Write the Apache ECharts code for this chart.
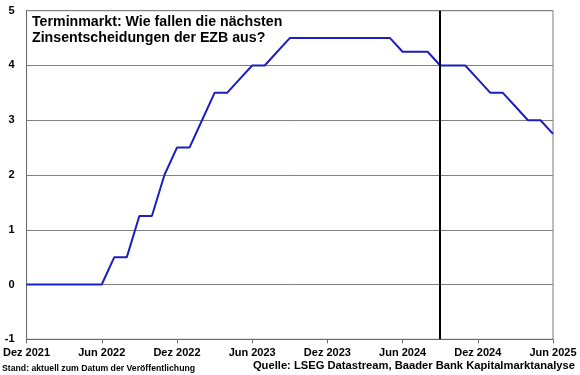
<!DOCTYPE html>
<html>
<head>
<meta charset="utf-8">
<script src="https://cdn.jsdelivr.net/npm/echarts@6/dist/echarts.min.js"></script>
<style>
html,body{margin:0;padding:0;background:#fff;}
#chart{width:580px;height:375px;}
</style>
</head>
<body>
<div id="chart"></div>
<script>
// Monthly categories, Dez 2021 .. Jun 2025
const months = ["Dez 2021","Jan 2022","Feb 2022","Mär 2022","Apr 2022","Mai 2022","Jun 2022","Jul 2022","Aug 2022","Sep 2022","Okt 2022","Nov 2022",
  "Dez 2022","Jan 2023","Feb 2023","Mär 2023","Apr 2023","Mai 2023","Jun 2023","Jul 2023","Aug 2023","Sep 2023","Okt 2023","Nov 2023",
  "Dez 2023","Jan 2024","Feb 2024","Mär 2024","Apr 2024","Mai 2024","Jun 2024","Jul 2024","Aug 2024","Sep 2024","Okt 2024","Nov 2024",
  "Dez 2024","Jan 2025","Feb 2025","Mär 2025","Apr 2025","Mai 2025","Jun 2025"];
// Leitzins / Terminmarkt-Erwartung (%)
const rates = [0,0,0,0,0,0,0,0.5,0.5,1.25,1.25,2.0,
  2.5,2.5,3.0,3.5,3.5,3.75,4.0,4.0,4.25,4.5,4.5,4.5,
  4.5,4.5,4.5,4.5,4.5,4.5,4.25,4.25,4.25,4.0,4.0,4.0,
  3.75,3.5,3.5,3.25,3.0,3.0,2.75];
const markerMonth = "Sep 2024";
const yTicks = [-1,0,1,2,3,4,5];
const titleText = "Terminmarkt: Wie fallen die nächsten\nZinsentscheidungen der EZB aus?";
const footLeft = "Stand: aktuell zum Datum der Veröffentlichung";
const footRight = "Quelle: LSEG Datastream, Baader Bank Kapitalmarktanalyse";

const font = "'Liberation Sans', Arial, sans-serif";
const chart = echarts.init(document.getElementById('chart'), null, {renderer:'canvas'});
chart.setOption({
  animation:false,
  backgroundColor:'#fff',
  title:{
    text:titleText, left:32, top:14, padding:0,
    textStyle:{fontFamily:font, fontSize:14.2, fontWeight:'bold', color:'#000', lineHeight:16}
  },
  graphic:[
    {type:'text', left:2, top:364, style:{text:footLeft, fontFamily:font, fontSize:8.7, fontWeight:'bold', fill:'#000'}},
    {type:'text', right:5, top:360, style:{text:footRight, fontFamily:font, fontSize:11.2, fontWeight:'bold', fill:'#000'}}
  ],
  grid:{left:26, right:27, top:10.7, bottom:35.7, show:true, borderColor:'#7a7a7a', borderWidth:1, backgroundColor:'transparent'},
  xAxis:{
    type:'category', data:months, boundaryGap:false,
    axisLine:{onZero:false, lineStyle:{color:'#6a6a6a', width:1}},
    axisTick:{show:true, interval:5, length:4, lineStyle:{color:'#6a6a6a'}},
    axisLabel:{interval:5, fontFamily:font, fontSize:11, fontWeight:'bold', color:'#000', margin:8},
    splitLine:{show:false}
  },
  yAxis:{
    type:'value', min:-1, max:5, interval:1,
    axisLine:{show:true, lineStyle:{color:'#6a6a6a', width:1}},
    axisTick:{show:false},
    axisLabel:{fontFamily:font, fontSize:11, fontWeight:'bold', color:'#000', margin:12,
      formatter:(v)=> yTicks.includes(v) ? String(v) : ''},
    splitLine:{show:true, lineStyle:{color:'#808080', width:1}}
  },
  series:[{
    type:'line', data:rates, showSymbol:false, symbol:'none',
    lineStyle:{color:'#1e1ec0', width:2},
    markLine:{
      silent:true, symbol:['none','none'], label:{show:false},
      lineStyle:{color:'#000', width:2, type:'solid'},
      data:[{xAxis:markerMonth}]
    }
  }]
});
</script>
</body>
</html>
